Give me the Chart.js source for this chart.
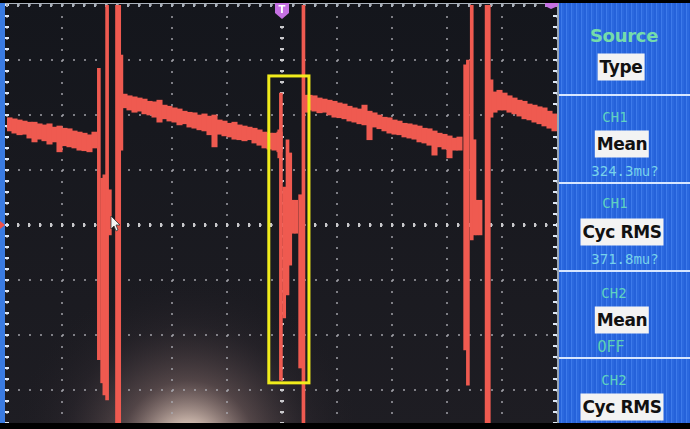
<!DOCTYPE html>
<html>
<head>
<meta charset="utf-8">
<script src="https://cdn.jsdelivr.net/npm/chart.js@4.4.1/dist/chart.umd.min.js"></script>
<style>
html,body{margin:0;padding:0;background:#000;}
#wrap{position:relative;width:690px;height:429px;overflow:hidden;background:#000;}
#c{position:absolute;left:0;top:0;}
#panel{position:absolute;left:559px;top:3px;width:131px;height:420px;
  background:repeating-linear-gradient(90deg,#2562da 0px,#2562da 2px,#3d7aea 2px,#3d7aea 3px,#2b68de 3px,#2b68de 5px);}
.div{position:absolute;left:559px;width:131px;height:2px;background:#d8e6ff;}
.t{position:absolute;transform:translate(-50%,-50%);white-space:nowrap;line-height:1;}
.src{font:bold 18px "DejaVu Sans",sans-serif;color:#74dcaa;letter-spacing:-0.3px;}
.ch{font:14px "DejaVu Sans Mono",monospace;color:#5fd2c0;}
.val{font:14px "DejaVu Sans Mono",monospace;color:#78d2ea;}
.off{font:15px "DejaVu Sans Mono",monospace;color:#5fd2b2;}
.box{font:bold 17px "DejaVu Sans",sans-serif;color:#111;background:#f3f3f3;line-height:27px;padding:0 2px;letter-spacing:-0.4px;}
</style>
</head>
<body>
<div id="wrap">
  <canvas id="c" width="690" height="429"></canvas>
  <div id="panel"></div>
  <div class="div" style="top:94px"></div>
  <div class="div" style="top:182px"></div>
  <div class="div" style="top:270px"></div>
  <div class="div" style="top:357px"></div>
  <div class="t src" style="left:624px;top:35px">Source</div>
  <div class="t box" style="left:621px;top:67px">Type</div>
  <div class="t ch" style="left:615px;top:117px">CH1</div>
  <div class="t box" style="left:622px;top:144px">Mean</div>
  <div class="t val" style="left:625px;top:171px">324.3mu?</div>
  <div class="t ch" style="left:615px;top:203px">CH1</div>
  <div class="t box" style="left:622px;top:232px">Cyc RMS</div>
  <div class="t val" style="left:625px;top:259px">371.8mu?</div>
  <div class="t ch" style="left:614px;top:293px">CH2</div>
  <div class="t box" style="left:622px;top:320px">Mean</div>
  <div class="t off" style="left:611px;top:347px">OFF</div>
  <div class="t ch" style="left:614px;top:380px">CH2</div>
  <div class="t box" style="left:622px;top:407px">Cyc RMS</div>
</div>
<script>
// ---- Data (screen divisions: x = time div, 0 = trigger; y = vertical div, 0 = CH1 ground) ----
const columnsPerScreen = 110;               // envelope columns across 10 divisions
const bandHigh = [
  1.95,1.93,1.91,1.89,1.87,1.87,1.84,1.82,1.84,1.78,1.80,1.76,1.75,1.71,1.69,1.67,1.64,1.69,
  null,null,null,null,null,
  2.38,2.35,2.33,2.31,2.29,2.25,2.24,2.27,2.18,2.16,2.13,2.11,2.07,2.05,2.04,2.00,2.02,1.98,2.00,1.91,
  1.89,1.85,1.87,1.82,1.80,1.78,1.76,1.73,1.69,1.67,1.67,1.69,
  null,null,null,null,null,
  2.36,2.35,2.31,2.29,2.27,2.25,2.22,2.20,2.16,2.13,2.11,2.18,2.07,2.04,2.00,1.96,1.95,1.91,1.89,1.85,
  1.84,1.82,1.80,1.76,1.75,1.71,1.67,1.65,1.62,1.58,1.60,
  null,null,null,null,null,null,
  2.42,2.45,2.40,2.35,2.31,2.27,2.25,2.20,2.18,2.15,2.13,2.07,2.02
];
const bandLow = [
  1.71,1.67,1.64,1.65,1.58,1.51,1.56,1.53,1.47,1.51,1.33,1.44,1.42,1.40,1.36,1.35,1.33,1.40,
  null,null,null,null,null,
  2.13,2.09,2.05,2.07,2.02,2.00,1.96,1.87,1.93,1.89,1.87,1.82,1.84,1.78,1.76,1.73,1.71,1.64,1.42,1.65,
  1.62,1.60,1.56,1.55,1.53,1.55,1.49,1.45,1.40,1.38,1.36,1.33,
  null,null,null,null,null,
  2.09,2.07,2.04,2.05,2.00,1.96,1.95,1.93,1.89,1.87,1.84,1.82,1.55,1.78,1.75,1.71,1.67,1.65,1.64,1.60,
  1.58,1.56,1.51,1.49,1.45,1.27,1.42,1.38,1.22,1.36,1.36,
  null,null,null,null,null,null,
  2.05,2.09,2.09,2.05,2.02,1.98,1.93,1.91,1.87,1.84,1.80,1.76,1.71
];
const spikeTimes = [-3.33,-3.27,-3.23,-3.18,-3.13,-3.00,-2.96,-2.92,
  -0.05,-0.02,0.04,0.10,0.15,0.21,0.26,0.33,0.39,0.44,
  3.33,3.38,3.45,3.50,3.55,3.61,3.72,3.76,3.81];
const spikeHigh = [2.85,0.85,0.91,4.0,0.64,4.0,4.0,3.09,
  1.73,2.40,0.69,1.55,1.31,0.45,0.45,0.55,4.0,2.36,
  2.91,3.0,4.0,1.55,0.45,0.45,4.0,4.0,2.64];
const spikeLow = [-2.45,-2.87,-3.09,-3.18,-0.18,-3.7,-3.7,1.36,
  1.22,-2.82,-1.69,-1.27,-0.73,-0.15,-0.15,-2.6,-3.7,2.05,
  -2.27,-2.91,-0.27,-0.18,-0.18,-0.18,-3.7,-3.7,1.96];
const highlightBox = {t0:-0.24, t1:0.49, v0:-2.87, v1:2.71};   // yellow marker box
const xTicks = {min:-5, max:5};
const yTicks = {min:-3.6, max:4};

// ---- build datasets ----
const step = (xTicks.max - xTicks.min) / columnsPerScreen;
const bandData = [];
bandHigh.forEach((h, i) => {
  if (h === null) return;
  bandData.push({x: xTicks.min + (i + 0.5) * step, y: [bandLow[i], h]});
});
const spikeData = spikeTimes.map((t, i) => ({x: t, y: [spikeLow[i], spikeHigh[i]]}));

const TRACE = '#ef5a50';

const scopePlugin = {
  id: 'scope',
  beforeDraw(chart) {
    const ctx = chart.ctx;
    ctx.save();
    ctx.fillStyle = '#000';
    ctx.fillRect(0, 0, chart.width, chart.height);
    const g = ctx.createLinearGradient(0, 0, 0, 429);
    g.addColorStop(0, '#14161c');
    g.addColorStop(1, '#1e1d23');
    ctx.fillStyle = g;
    ctx.fillRect(0, 3, 559, 420);
    const r = ctx.createRadialGradient(188, 448, 2, 188, 448, 175);
    r.addColorStop(0, 'rgba(255,246,236,1)');
    r.addColorStop(0.14, 'rgba(240,215,200,0.8)');
    r.addColorStop(0.38, 'rgba(175,140,135,0.36)');
    r.addColorStop(0.7, 'rgba(95,75,80,0.12)');
    r.addColorStop(1, 'rgba(40,30,35,0)');
    ctx.fillStyle = r;
    ctx.fillRect(0, 3, 559, 420);
    ctx.restore();
  },
  beforeDatasetsDraw(chart) {
    const {ctx, chartArea: a, scales: {x, y}} = chart;
    ctx.save();
    // centre graticule minor marks
    ctx.fillStyle = '#c9c9cc';
    const x0 = x.getPixelForValue(0), y0 = y.getPixelForValue(0);
    for (let k = 0; k <= 40; k++) {
      const py = y.getPixelForValue(yTicks.max - k * 0.2);
      if (py > a.bottom) break;
      ctx.fillRect(x0 - 2, py - 1, 4, 2);
    }
    for (let k = 0; k <= 50; k++) {
      const px = x.getPixelForValue(xTicks.min + k * 0.2);
      ctx.fillRect(px - 1, y0 - 2, 2, 4);
    }
    // left blue strip with ticks
    ctx.fillStyle = '#3a7be2';
    ctx.fillRect(0, 3, 5, 420);
    ctx.fillStyle = '#dfe8f5';
    for (let k = 0; k <= 40; k++) {
      const py = y.getPixelForValue(yTicks.max - k * 0.2);
      if (py > a.bottom) break;
      ctx.fillRect(5, py - 1, 4, 2);
      ctx.fillRect(a.right - 4, py - 1, 4, 2);
    }
    // top ruler
    ctx.fillStyle = '#aab2bc';
    ctx.fillRect(5, 3, a.right - 5, 1);
    for (let k = 0; k <= 50; k++) {
      const px = x.getPixelForValue(xTicks.min + k * 0.2);
      ctx.fillRect(px - 1, 3, 2, 4);
    }
    // right border
    ctx.fillStyle = '#9aa6b4';
    ctx.fillRect(a.right, 3, 2, 420);
    ctx.restore();
  },
  afterDatasetsDraw(chart) {
    const {ctx, scales: {x, y}} = chart;
    ctx.save();
    // yellow highlight box
    const bx0 = x.getPixelForValue(highlightBox.t0), bx1 = x.getPixelForValue(highlightBox.t1);
    const by0 = y.getPixelForValue(highlightBox.v1), by1 = y.getPixelForValue(highlightBox.v0);
    ctx.strokeStyle = '#f0ec1c';
    ctx.lineWidth = 3;
    ctx.strokeRect(bx0, by0, bx1 - bx0, by1 - by0);
    // trigger marker
    const tx = x.getPixelForValue(0);
    ctx.fillStyle = '#c570e2';
    ctx.beginPath();
    ctx.moveTo(tx - 7, 3); ctx.lineTo(tx + 7, 3); ctx.lineTo(tx + 7, 13);
    ctx.lineTo(tx, 19); ctx.lineTo(tx - 7, 13); ctx.closePath(); ctx.fill();
    ctx.fillStyle = '#ffffff';
    ctx.font = 'bold 10px "DejaVu Sans"';
    ctx.textAlign = 'center'; ctx.textBaseline = 'middle';
    ctx.fillText('T', tx, 10);
    // top-right level marker
    ctx.fillStyle = '#c570e2';
    ctx.beginPath();
    ctx.moveTo(545, 0); ctx.lineTo(558, 0); ctx.lineTo(558, 6); ctx.lineTo(551, 9); ctx.lineTo(545, 6);
    ctx.closePath(); ctx.fill();
    // CH1 ground marker
    const gy = y.getPixelForValue(0);
    ctx.fillStyle = '#f0504a';
    ctx.beginPath();
    ctx.moveTo(0, gy - 4); ctx.lineTo(5, gy); ctx.lineTo(0, gy + 4); ctx.closePath(); ctx.fill();
    // mouse cursor
    ctx.fillStyle = '#f4f4f4';
    ctx.strokeStyle = '#333';
    ctx.lineWidth = 0.8;
    ctx.beginPath();
    ctx.moveTo(111, 216); ctx.lineTo(111, 229); ctx.lineTo(114, 226); ctx.lineTo(116, 231);
    ctx.lineTo(118, 230); ctx.lineTo(116, 225); ctx.lineTo(120, 225); ctx.closePath();
    ctx.fill(); ctx.stroke();
    ctx.restore();
  },
  afterDraw(chart) {
    const ctx = chart.ctx;
    ctx.save();
    ctx.fillStyle = '#000';
    ctx.fillRect(0, 423, chart.width, 6);
    ctx.fillRect(0, 0, chart.width, 3);
    ctx.restore();
  }
};

new Chart(document.getElementById('c'), {
  type: 'bar',
  data: {
    datasets: [
      {label: 'CH1 envelope', data: bandData, backgroundColor: TRACE, barThickness: 5.4, grouped: false, borderWidth: 0},
      {label: 'CH1 spikes', data: spikeData, backgroundColor: TRACE, barThickness: 3, grouped: false, borderWidth: 0}
    ]
  },
  options: {
    responsive: false,
    animation: false,
    events: [],
    layout: {padding: {left: 7, right: 133, top: 5, bottom: 6}},
    plugins: {legend: {display: false}, tooltip: {enabled: false}},
    scales: {
      x: {
        type: 'linear', min: xTicks.min, max: xTicks.max, offset: false,
        ticks: {display: false, stepSize: 1, includeBounds: false},
        grid: {color: 'rgba(170,170,176,0.7)', lineWidth: 2, drawTicks: false, offset: false},
        border: {display: false, dash: [2, 9]}
      },
      y: {
        type: 'linear', min: yTicks.min, max: yTicks.max,
        ticks: {display: false, stepSize: 1, includeBounds: false},
        grid: {color: 'rgba(170,170,176,0.7)', lineWidth: 2, drawTicks: false},
        border: {display: false, dash: [2, 9]}
      }
    }
  },
  plugins: [scopePlugin]
});
</script>
</body>
</html>
